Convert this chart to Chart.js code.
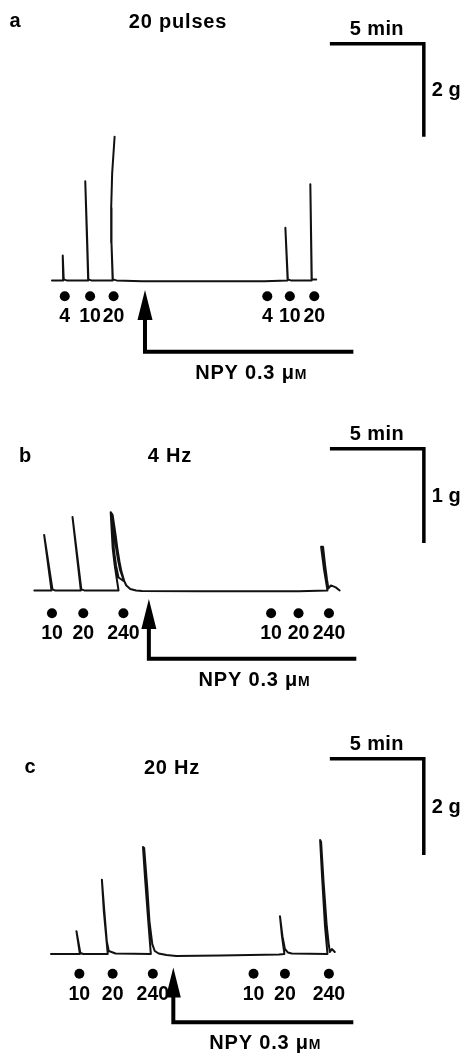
<!DOCTYPE html>
<html>
<head>
<meta charset="utf-8">
<title>NPY traces</title>
<script src="https://cdn.jsdelivr.net/npm/chart.js@4.4.1/dist/chart.umd.min.js"></script>
<style>
	html, body { margin: 0; padding: 0; background: #fff; }
	#wrap { width: 468px; height: 1057px; }
</style>
</head>
<body>
<div id="wrap"><canvas id="myChart" width="468" height="1057"></canvas></div>
<script>
	// tension traces: time in min from start of trace, tension in g above baseline
	// a - 20 pulses
	var traceA_t = [0, 0.596, 0.573, 0.625, 0.78, 1.927, 1.849, 1.771, 1.859, 1.937, 2.083,
		3.229, 3.167, 3.151, 3.203, 3.333, 3.203, 3.151, 3.167, 3.24, 3.4375, 4.79, 7.92, 11.30,
		12.542, 12.422, 12.552, 12.708, 13.818, 13.75, 13.828, 14.063];
	var traceA_g = [0, 0, 0.532, 0.021, 0, 0, 1.064, 2.128, 1.064, 0.021, 0,
		0, 0.809, 1.553, 2.298, 3.085, 2.298, 1.553, 0.809, 0.021, 0, -0.02, -0.02, -0.02,
		0, 1.128, 0.021, 0, 0, 2.064, 0.021, 0.021];
	var stimA_t = [0.68, 2.03, 3.28, 11.46, 12.66, 13.96];
	var stimA_labels = ['4', '10', '20', '4', '10', '20'];
	var npyA_t = [4.95, 16.04];

	// b - 4 Hz
	var traceB_t = [0, 0.911, 0.521, 0.964, 1.094, 2.474, 2.031, 2.5, 2.656,
		4.479, 4.375, 4.271, 4.167, 4.115, 4.0625, 4.167, 4.323, 4.427, 4.531, 4.635, 4.792,
		4.479, 4.349, 4.245, 4.167, 4.089, 4.219, 4.349, 4.453, 4.557, 4.74, 4.896, 5.104, 5.417, 5.729,
		8.854, 14.0625, 15.599, 15.417, 15.26, 15.365, 15.469, 15.573, 15.651, 15.781, 16.042, 16.25];
	var traceB_g = [0, 0, 0.589, 0.011, 0, 0, 0.779, 0.011, 0,
		0, 0.137, 0.274, 0.453, 0.642, 0.832, 0.8, 0.589, 0.432, 0.305, 0.2, 0.095,
		0.137, 0.263, 0.411, 0.589, 0.8, 0.642, 0.453, 0.326, 0.221, 0.116, 0.053, 0.016, 0, -0.005,
		-0.01, -0.01, 0, 0.221, 0.463, 0.463, 0.274, 0.116, 0.021, 0.053, 0.032, 0];
	var stimB_t = [0.9375, 2.604, 4.74, 12.6, 14.06, 15.68];
	var stimB_labels = ['10', '20', '240', '10', '20', '240'];
	var npyB_t = [6.094, 17.135];

	// c - 20 Hz
	var traceC_t = [0, 1.536, 1.354, 1.5625, 1.719, 3.021, 2.8125, 2.708, 2.839, 2.969, 3.073, 3.4375,
		5.3125, 5.156, 5.0, 4.896, 4.958, 5.12, 5.24, 5.391, 5.521, 5.729, 6.146, 6.667, 9.01, 12.135,
		12.422, 12.292, 12.1875, 12.318, 12.448, 12.604, 12.8125,
		14.714, 14.583, 14.427, 14.323, 14.375, 14.505, 14.677, 14.792, 14.844, 14.948, 15.104];
	var traceC_g = [0, 0, 0.474, 0.021, 0, 0, 0.887, 1.546, 0.887, 0.268, 0.062, 0.01,
		0, 0.784, 1.608, 2.227, 2.206, 1.402, 0.680, 0.206, 0.062, 0.01, -0.021, -0.041, -0.031, -0.01,
		0, 0.371, 0.784, 0.371, 0.103, 0.031, 0.01,
		0, 0.577, 1.608, 2.371, 2.33, 1.505, 0.577, 0.165, 0.041, 0.103, 0.041];
	var stimC_t = [1.51, 3.28, 5.42, 10.78, 12.45, 14.79];
	var stimC_labels = ['10', '20', '240', '10', '20', '240'];
	var npyC_t = [6.51, 16.09];

	var barMin = 5;          // horizontal scale bar, min
	var barGrams = [2, 1, 2]; // vertical scale bar per panel, g

	var FONT = '"Liberation Sans", Arial, sans-serif';

	// where each panel sits on the page (scale ranges chosen so the three share one canvas)
	var panels = [
		{ k: 'a', xmin: -2.5, xmax: 21.875, ymin: -16.574, ymax: 5.915,
			t: traceA_t, g: traceA_g, stim: stimA_t, lab: stimA_labels, npy: npyA_t, bar: barGrams[0],
			dotG: -0.34, arrowG: [-0.83, -1.532], barT: 14.79, barG: 5.085,
			name: 'a', title: '20 pulses', namePos: [15, 27], titlePos: [178, 28] },
		{ k: 'b', xmin: -1.5625, xmax: 22.8125, ymin: -4.905, ymax: 6.221,
			t: traceB_t, g: traceB_g, stim: stimB_t, lab: stimB_labels, npy: npyB_t, bar: barGrams[1],
			dotG: -0.242, arrowG: [-0.4, -0.726], barT: 15.73, barG: 1.505,
			name: 'b', title: '4 Hz', namePos: [25, 462], titlePos: [170, 462] },
		{ k: 'c', xmin: -2.448, xmax: 21.927, ymin: -2.041, ymax: 19.753,
			t: traceC_t, g: traceC_g, stim: stimC_t, lab: stimC_labels, npy: npyC_t, bar: barGrams[2],
			dotG: -0.412, arrowG: [-0.887, -1.423], barT: 14.84, barG: 4.062,
			name: 'c', title: '20 Hz', namePos: [30, 773], titlePos: [172, 774] }
	];

	function pts(ts, gs) {
		return ts.map(function (t, i) { return { x: t, y: gs[i] }; });
	}

	var datasets = [];
	var scales = {};
	panels.forEach(function (p) {
		var xa = 'x' + p.k, ya = 'y' + p.k;
		scales[xa] = { type: 'linear', axis: 'x', display: false, min: p.xmin, max: p.xmax };
		scales[ya] = { type: 'linear', axis: 'y', display: false, min: p.ymin, max: p.ymax };
		// trace
		datasets.push({ data: pts(p.t, p.g), xAxisID: xa, yAxisID: ya, showLine: true,
			borderColor: '#111', borderWidth: 2, pointRadius: 0, borderJoinStyle: 'round', borderCapStyle: 'round' });
		// stimulation dots
		datasets.push({ data: p.stim.map(function (t) { return { x: t, y: p.dotG }; }), xAxisID: xa, yAxisID: ya,
			showLine: false, pointRadius: 5, backgroundColor: '#000', borderWidth: 0 });
		// NPY arrow shaft + bar
		datasets.push({ data: [{ x: p.npy[0], y: p.arrowG[0] }, { x: p.npy[0], y: p.arrowG[1] }, { x: p.npy[1], y: p.arrowG[1] }],
			xAxisID: xa, yAxisID: ya, showLine: true, borderColor: '#000', borderWidth: 4, pointRadius: 0,
			borderJoinStyle: 'miter', borderCapStyle: 'butt' });
		// scale bar
		datasets.push({ data: [{ x: p.barT, y: p.barG }, { x: p.barT + barMin, y: p.barG }, { x: p.barT + barMin, y: p.barG - p.bar }],
			xAxisID: xa, yAxisID: ya, showLine: true, borderColor: '#000', borderWidth: 3.5, pointRadius: 0,
			borderJoinStyle: 'miter', borderCapStyle: 'butt' });
	});

	function txt(ctx, s, x, y, size, align, spacing) {
		ctx.font = 'bold ' + size + 'px ' + FONT;
		ctx.letterSpacing = spacing || '0px';
		ctx.textAlign = align || 'center';
		ctx.textBaseline = 'alphabetic';
		ctx.fillText(s, x, y);
	}

	var labelsPlugin = {
		id: 'labelsPlugin',
		afterDatasetsDraw: function (chart) {
			var ctx = chart.ctx;
			ctx.save();
			ctx.fillStyle = '#000';
			panels.forEach(function (p) {
				var sx = chart.scales['x' + p.k], sy = chart.scales['y' + p.k];
				txt(ctx, p.name, p.namePos[0], p.namePos[1], 20);
				txt(ctx, p.title, p.titlePos[0], p.titlePos[1], 20, 'center', '0.8px');
				// stimulus numbers
				var dy = sy.getPixelForValue(p.dotG);
				p.stim.forEach(function (t, i) {
					txt(ctx, p.lab[i], sx.getPixelForValue(t), dy + 26, 19.5);
				});
				// arrow head
				var ax = sx.getPixelForValue(p.npy[0]);
				var ay = sy.getPixelForValue(p.arrowG[0]);
				ctx.beginPath();
				ctx.moveTo(ax, ay - 29);
				ctx.lineTo(ax - 7.5, ay + 1);
				ctx.lineTo(ax + 7.5, ay + 1);
				ctx.closePath();
				ctx.fill();
				// NPY label, small-cap M
				var by = sy.getPixelForValue(p.arrowG[1]);
				var cx = (ax + sx.getPixelForValue(p.npy[1])) / 2 + 2;
				ctx.letterSpacing = '0.8px';
				ctx.font = 'bold 20px ' + FONT;
				var w1 = ctx.measureText('NPY 0.3 \u03bc').width;
				ctx.font = 'bold 14px ' + FONT;
				var w2 = ctx.measureText('M').width;
				var x0 = cx - (w1 + w2) / 2;
				txt(ctx, 'NPY 0.3 \u03bc', x0, by + 27, 20, 'left', '0.8px');
				txt(ctx, 'M', x0 + w1, by + 27, 14, 'left', '0.8px');
				// scale bar labels
				var bx1 = sx.getPixelForValue(p.barT), bx2 = sx.getPixelForValue(p.barT + barMin);
				var bt = sy.getPixelForValue(p.barG), bb = sy.getPixelForValue(p.barG - p.bar);
				txt(ctx, barMin + ' min', (bx1 + bx2) / 2, bt - 9, 20, 'center', '0.4px');
				txt(ctx, p.bar + ' g', bx2 + 8, (bt + bb) / 2 + 6, 20, 'left');
			});
			ctx.restore();
		}
	};

	new Chart(document.getElementById('myChart'), {
		type: 'scatter',
		data: { datasets: datasets },
		options: {
			responsive: false,
			devicePixelRatio: 1,
			animation: false,
			layout: { padding: 0 },
			scales: scales,
			plugins: { legend: { display: false }, tooltip: { enabled: false } }
		},
		plugins: [labelsPlugin]
	});
</script>
</body>
</html>
